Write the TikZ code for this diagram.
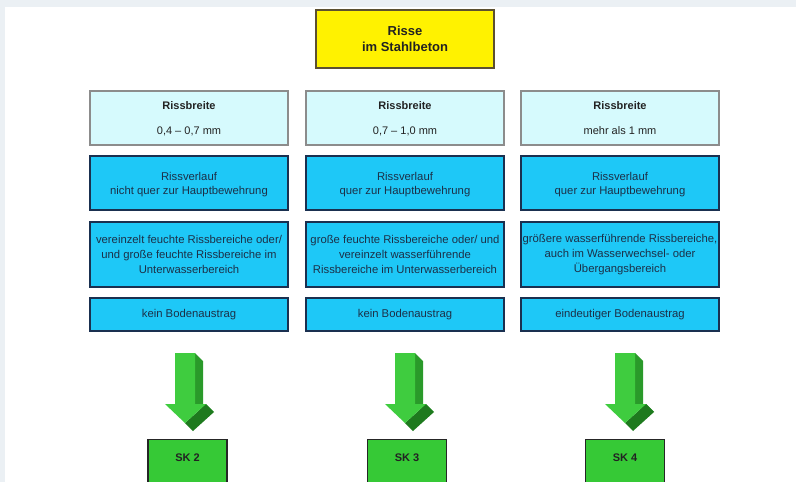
\documentclass[tikz,border=0pt]{standalone}
\usepackage{fontspec}
\setmainfont{Liberation Sans}
\definecolor{bgframe}{HTML}{EBF0F4}
\definecolor{lightcyan}{HTML}{D6FAFD}
\definecolor{skyblue}{HTML}{1EC8F7}
\definecolor{navyline}{HTML}{1A3050}
\definecolor{titleline}{HTML}{5C5030}
\definecolor{txtdark}{HTML}{222222}
\definecolor{txtblue}{HTML}{1C3048}
\definecolor{gfront}{HTML}{3FCC3F}
\definecolor{gside}{HTML}{2A9A2A}
\definecolor{gtop}{HTML}{32B032}
\definecolor{gdark}{HTML}{1E7A1E}
\definecolor{skfill}{HTML}{36C936}
\tikzset{
  titlebox/.style={draw=titleline, line width=1.6pt, fill=yellow, minimum width=178pt, minimum height=58pt, align=center, text=txtdark, font=\fontsize{13}{16}\selectfont\bfseries, inner sep=0pt},
  widthbox/.style={draw=gray!90, line width=1.1pt, fill=lightcyan, minimum width=198pt, minimum height=54pt, align=center, text=txtdark, font=\fontsize{11}{12}\selectfont, inner sep=0pt},
  bluebox/.style={draw=navyline, line width=1.3pt, fill=skyblue, minimum width=198pt, align=center, text=txtblue, font=\fontsize{11.3}{15}\selectfont, inner sep=0pt},
  bluetext/.style={align=center, text=txtblue, font=\fontsize{11.3}{14}\selectfont, inner sep=0pt},
  skbox/.style={draw=black!85, line width=1.2pt, fill=skfill, minimum width=79pt, minimum height=50pt, text=txtdark, inner sep=0pt},
  sklabel/.style={text=txtdark, font=\fontsize{11}{12}\selectfont\bfseries},
}
\newcommand{\greenarrow}[2]{%
  % #1 = x centre of shaft front, #2 = name of top coordinate
  \fill[gside] (#1+10,353) -- (#1+18,361) -- (#1+18,412) -- (#1+10,404) -- cycle;
  \fill[gtop] (#1+10,404) -- (#1+21,404) -- (#1+29,412) -- (#1+18,412) -- cycle;
  \fill[gdark] (#1+21,404) -- (#1,423) -- (#1+8,431) -- (#1+29,412) -- cycle;
  \fill[gfront] (#1-10,353) -- (#1+10,353) -- (#1+10,404) -- (#1+21,404) -- (#1,423) -- (#1-20,404) -- (#1-10,404) -- cycle;
  \coordinate (#2) at (#1,353);
}
\begin{document}
\begin{tikzpicture}[x=1pt,y=-1pt]
\fill[bgframe] (0,0) rectangle (796,482);
\clip (0,0) rectangle (796,482);
\fill[white] (5,7) rectangle (796,482);

\node[titlebox] (title) at (405,39) {};
\node[align=center, text=txtdark, font=\fontsize{13}{16}\selectfont\bfseries, inner sep=0pt] (titletext) at (405,40.5) {Risse\strut\\im Stahlbeton\strut};

% column 1
\node[widthbox] (w1) at (189,118) {};
\node[align=center, text=txtdark, font=\fontsize{11}{12}\selectfont, inner sep=0pt] (w1t) at (189,119.5) {\textbf{Rissbreite}\strut\\[13pt]0,4 – 0,7 mm\strut};
\node[bluebox, minimum height=54pt] (v1) at (189,183) {};
\node[bluetext] (v1t) at (189,184.5) {Rissverlauf\strut\\nicht quer zur Hauptbewehrung\strut};
\node[bluebox, minimum height=65pt] (f1) at (189,254.5) {vereinzelt feuchte Rissbereiche oder/\\und große feuchte Rissbereiche im\\Unterwasserbereich};
\node[bluebox, minimum height=33pt] (b1) at (189,314.5) {kein Bodenaustrag};

% column 2
\node[widthbox] (w2) at (405,118) {};
\node[align=center, text=txtdark, font=\fontsize{11}{12}\selectfont, inner sep=0pt] (w2t) at (405,119.5) {\textbf{Rissbreite}\strut\\[13pt]0,7 – 1,0 mm\strut};
\node[bluebox, minimum height=54pt] (v2) at (405,183) {};
\node[bluetext] (v2t) at (405,184.5) {Rissverlauf\strut\\quer zur Hauptbewehrung\strut};
\node[bluebox, minimum height=65pt] (f2) at (405,254.5) {große feuchte Rissbereiche oder/ und\\vereinzelt wasserführende\\Rissbereiche im Unterwasserbereich};
\node[bluebox, minimum height=33pt] (b2) at (405,314.5) {kein Bodenaustrag};

% column 3
\node[widthbox] (w3) at (620,118) {};
\node[align=center, text=txtdark, font=\fontsize{11}{12}\selectfont, inner sep=0pt] (w3t) at (620,119.5) {\textbf{Rissbreite}\strut\\[13pt]mehr als 1 mm\strut};
\node[bluebox, minimum height=54pt] (v3) at (620,183) {};
\node[bluetext] (v3t) at (620,184.5) {Rissverlauf\strut\\quer zur Hauptbewehrung\strut};
\node[bluebox, minimum height=65pt] (f3) at (620,254.5) {größere wasserführende Rissbereiche,\\auch im Wasserwechsel- oder\\Übergangsbereich};
\node[bluebox, minimum height=33pt] (b3) at (620,314.5) {eindeutiger Bodenaustrag};

% arrows
\greenarrow{185}{a1}
\greenarrow{405}{a2}
\greenarrow{625}{a3}

% SK boxes
\node[skbox, anchor=north] (sk2) at (187.5,439) {};
\node[sklabel] (l2) at (187.5,458) {SK 2};
\node[skbox, anchor=north] (sk3) at (407,439) {};
\node[sklabel] (l3) at (407,458) {SK 3};
\node[skbox, anchor=north] (sk4) at (625,439) {};
\node[sklabel] (l4) at (625,458) {SK 4};
\end{tikzpicture}
\end{document}
